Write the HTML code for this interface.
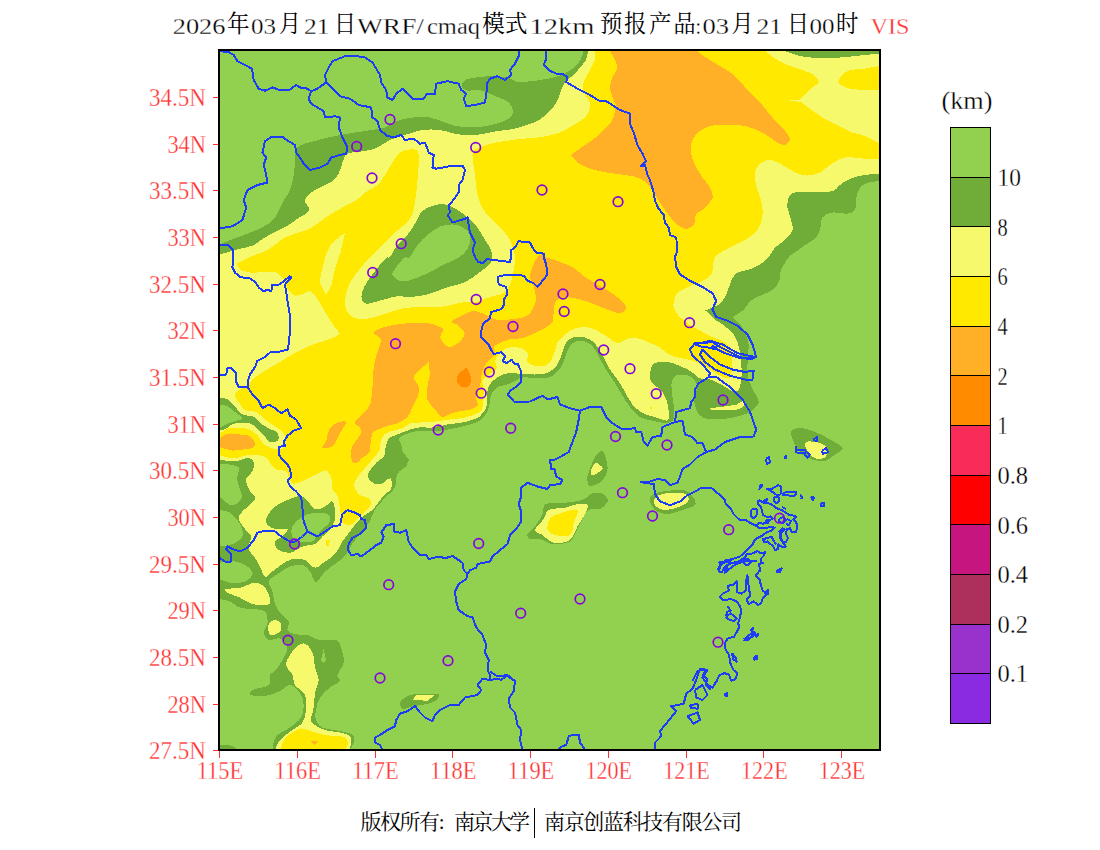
<!DOCTYPE html>
<html lang="zh"><head><meta charset="utf-8"><title>VIS</title>
<style>
html,body{margin:0;padding:0;background:#fff;}
body{width:1100px;height:850px;overflow:hidden;}
svg{display:block;}
.ax text,.lg text,text.tt{stroke:#fff;stroke-width:0.3px;paint-order:fill;}
.ax{font-family:"Liberation Serif","Noto Serif CJK SC",serif;font-size:25.5px;fill:#ff3030;}
.tt{font-family:"Liberation Serif","Noto Serif CJK SC",serif;font-size:24px;fill:#000;}
.tc{font-family:"Liberation Serif","Noto Serif CJK SC",serif;font-size:23.5px;fill:#000;}
.lg{font-family:"Liberation Serif",serif;font-size:25.5px;fill:#000;}
.ft{font-family:"Liberation Serif","Noto Serif CJK SC",serif;font-size:21px;fill:#000;}
</style></head><body>
<svg width="1100" height="850" viewBox="0 0 1100 850">
<rect width="1100" height="850" fill="#fff"/>
<defs><clipPath id="cp"><rect x="219" y="50" width="661" height="700"/></clipPath></defs>
<g clip-path="url(#cp)" shape-rendering="crispEdges">
<rect x="219" y="50" width="661" height="700" fill="#92D050"/>
<path fill="#70AD38" fill-rule="evenodd" d="M219.5 244.5C221.8 243.6 228.3 240.8 233.0 239.0C237.7 237.2 242.8 235.5 247.7 233.6C252.6 231.7 258.1 229.6 262.3 227.3C266.5 225.0 270.3 222.7 273.0 220.0C275.7 217.3 276.8 214.3 278.6 211.0C280.4 207.7 282.1 203.5 284.0 200.0C285.9 196.5 288.4 194.2 290.0 190.0C291.6 185.8 292.9 179.6 293.7 175.0C294.5 170.4 294.4 167.1 295.0 162.5C295.6 157.9 294.2 151.1 297.5 147.5C300.8 143.9 307.9 143.1 315.0 141.0C322.1 138.9 331.7 136.7 340.0 135.0C348.3 133.3 357.5 132.2 365.0 131.0C372.5 129.8 379.6 129.2 385.0 127.5C390.4 125.8 392.9 122.7 397.5 121.0C402.1 119.3 407.1 118.1 412.5 117.5C417.9 116.9 424.6 116.7 430.0 117.5C435.4 118.3 440.7 121.1 445.0 122.5C449.3 123.9 451.4 125.2 456.0 126.0C460.6 126.8 467.8 127.0 472.7 127.0C477.6 127.0 480.9 127.0 485.5 126.2C490.1 125.5 495.8 124.0 500.0 122.5C504.2 121.0 508.9 119.1 511.0 117.0C513.1 114.9 513.0 112.2 512.7 109.8C512.4 107.4 511.1 104.5 509.0 102.5C506.9 100.5 503.3 99.5 500.0 98.0C496.7 96.5 492.6 94.9 489.0 93.5C485.4 92.1 481.8 90.3 478.2 89.8C474.6 89.3 470.0 91.3 467.3 90.7C464.6 90.1 462.1 88.0 461.8 86.2C461.5 84.4 462.5 81.3 465.5 79.8C468.5 78.3 475.2 77.6 480.0 77.0C484.8 76.4 489.7 76.0 494.5 76.2C499.3 76.4 505.4 77.1 509.0 78.0C512.6 78.9 513.4 81.0 516.4 81.6C519.4 82.2 523.1 81.9 527.3 81.6C531.5 81.3 536.6 80.7 541.8 79.8C546.9 78.9 553.3 77.9 558.2 76.2C563.1 74.5 567.4 72.4 571.0 69.8C574.6 67.2 577.9 64.0 580.0 60.7C582.1 57.4 582.9 53.5 583.6 50.0C584.3 46.5 583.9 41.7 584.0 40.0L890.0 40.0L890.0 181.0C888.3 181.0 884.2 180.6 880.0 181.0C875.8 181.4 868.5 182.2 865.0 183.7C861.5 185.2 860.2 187.3 858.7 190.0C857.2 192.7 856.6 196.7 856.0 200.0C855.4 203.3 856.4 207.7 855.0 210.0C853.6 212.3 851.2 213.3 847.5 213.7C843.8 214.1 836.7 211.9 832.5 212.5C828.3 213.1 824.6 214.6 822.5 217.5C820.4 220.4 821.2 226.5 820.0 230.0C818.8 233.5 817.5 236.2 815.0 238.7C812.5 241.2 808.3 242.7 805.0 245.0C801.7 247.3 797.7 250.5 795.0 252.5C792.3 254.5 791.3 254.1 789.0 257.0C786.7 259.9 782.5 266.3 781.0 270.0C779.5 273.7 780.9 276.3 779.8 279.4C778.7 282.5 777.0 286.3 774.2 288.8C771.4 291.3 766.8 292.6 763.0 294.5C759.2 296.4 754.8 297.5 751.6 300.0C748.4 302.5 745.3 307.9 744.0 309.5L732.8 317.0L740.3 324.6C741.2 326.2 744.6 330.6 746.0 334.0C747.4 337.4 748.5 341.9 748.8 345.3C749.1 348.8 748.0 349.7 747.8 354.7C747.6 359.7 747.2 370.1 747.8 375.4C748.4 380.7 750.0 382.9 751.6 386.7C753.2 390.5 756.2 395.2 757.3 398.0C758.4 400.8 759.2 401.4 758.2 403.6C757.2 405.8 754.6 409.0 751.6 411.0C748.6 413.0 744.7 414.5 740.3 415.8C735.9 417.1 730.9 418.2 725.3 418.7C719.7 419.2 711.0 419.6 706.5 418.7C702.0 417.8 699.9 415.2 698.0 413.0C696.1 410.8 695.8 408.0 695.2 405.5C694.6 403.0 693.9 400.8 694.2 398.0C694.5 395.2 696.8 391.4 697.0 388.6C697.2 385.8 696.8 383.2 695.2 381.0C693.6 378.8 690.8 376.3 687.6 375.4C684.5 374.5 679.0 374.1 676.3 375.4C673.6 376.6 672.2 379.1 671.6 382.9C671.0 386.7 672.1 393.0 672.6 398.0C673.1 403.0 674.5 409.2 674.5 413.0C674.5 416.8 674.2 418.8 672.6 420.5C671.0 422.2 668.4 423.0 665.0 423.0C661.6 423.0 656.7 421.7 652.5 420.7C648.3 419.7 643.8 419.3 640.0 417.0C636.2 414.7 632.9 410.6 630.0 407.0C627.1 403.4 625.0 399.7 622.5 395.7C620.0 391.7 617.5 386.9 615.0 383.0C612.5 379.1 609.8 375.7 607.5 372.0C605.2 368.3 603.1 364.4 601.0 360.7C598.9 356.9 597.0 352.4 595.0 349.5C593.0 346.6 591.4 344.5 588.7 343.0C586.0 341.5 581.7 340.4 578.7 340.7C575.8 340.9 573.1 342.2 571.0 344.5C568.9 346.8 567.7 350.8 566.0 354.5C564.3 358.2 563.7 363.2 561.0 367.0C558.3 370.8 554.4 375.2 550.0 377.0C545.6 378.8 539.2 377.5 534.5 377.6C529.8 377.7 524.8 377.2 521.8 377.6C518.8 378.0 518.8 379.1 516.7 380.2C514.6 381.3 511.9 382.9 509.0 384.0C506.1 385.1 501.8 385.2 499.0 386.5C496.2 387.8 494.0 389.5 492.5 391.6C491.0 393.7 490.6 396.6 490.0 399.3C489.4 402.0 489.9 404.9 488.7 408.0C487.5 411.1 485.3 415.5 483.0 418.0C480.7 420.5 478.8 421.5 475.0 423.0C471.2 424.5 465.8 425.7 460.0 427.0C454.2 428.3 446.7 430.0 440.0 430.7C433.3 431.4 424.6 430.8 420.0 431.0C415.4 431.2 415.3 431.6 412.6 432.2C409.9 432.8 406.3 433.7 404.0 434.8C401.7 435.9 399.4 437.4 398.9 439.0C398.4 440.6 400.3 442.1 401.0 444.4C401.7 446.7 402.7 451.4 403.0 452.8L409.0 459.2L406.3 466.6C405.1 467.5 400.7 469.9 398.9 472.0C397.1 474.1 396.2 477.2 395.7 479.3C395.2 481.4 396.2 482.7 395.7 484.6C395.2 486.6 394.1 489.1 392.5 491.0C390.9 492.9 387.9 494.4 386.0 496.3C384.1 498.2 382.7 500.3 380.8 502.6C378.9 504.9 376.3 506.9 374.5 510.0C372.7 513.1 372.4 517.1 370.0 521.0C367.6 524.9 362.9 529.8 360.0 533.5C357.1 537.2 355.0 539.8 352.5 543.5C350.0 547.2 347.9 552.6 345.0 556.0C342.1 559.4 338.3 561.4 335.0 564.0C331.7 566.6 328.2 568.5 325.0 571.5C321.8 574.5 318.5 582.0 316.0 582.0C313.5 582.0 312.2 574.3 310.0 571.5C307.8 568.7 305.8 565.8 302.5 565.0C299.2 564.2 294.2 565.0 290.0 566.5C285.8 568.0 281.1 571.5 277.5 574.0C273.9 576.5 269.5 578.6 268.7 581.5C267.9 584.4 271.4 587.8 272.5 591.5C273.6 595.2 273.6 600.2 275.0 604.0C276.4 607.8 278.7 611.1 281.0 614.0C283.3 616.9 287.5 618.7 288.7 621.5C289.9 624.3 286.1 628.8 288.0 631.0C289.9 633.2 296.8 634.3 300.0 635.0C303.2 635.7 304.2 634.2 307.5 635.0C310.8 635.8 315.2 639.2 320.0 640.0C324.8 640.8 332.5 638.8 336.0 640.0C339.5 641.2 339.7 643.8 341.0 647.5C342.3 651.2 344.3 657.9 343.7 662.5C343.1 667.1 338.1 671.9 337.5 675.0C336.9 678.1 341.2 678.9 340.0 681.0C338.8 683.1 333.3 684.8 330.0 687.5C326.7 690.2 322.3 693.8 320.0 697.5C317.7 701.2 316.7 706.2 316.0 710.0C315.3 713.8 314.9 717.1 316.0 720.0C317.1 722.9 318.5 725.7 322.5 727.5C326.5 729.3 335.0 729.8 340.0 731.0C345.0 732.2 350.2 733.1 352.5 735.0C354.8 736.9 354.1 740.0 353.7 742.5C353.3 745.0 350.6 747.1 350.0 750.0C349.4 752.9 350.0 758.3 350.0 760.0L272.5 760.0L272.5 750.0C272.7 748.8 272.9 745.0 273.7 742.5C274.5 740.0 274.8 737.5 277.5 735.0C280.2 732.5 286.1 730.4 290.0 727.5C293.9 724.6 298.7 721.2 301.0 717.5C303.3 713.8 303.9 709.2 303.7 705.0C303.5 700.8 302.3 695.8 300.0 692.5C297.7 689.2 293.3 685.2 290.0 685.0C286.7 684.8 284.2 689.2 280.0 691.0C275.8 692.8 269.8 695.3 265.0 696.0C260.2 696.7 253.1 696.0 251.0 695.0C248.9 694.0 249.6 691.7 252.5 690.0C255.4 688.3 265.8 687.5 268.7 685.0C271.6 682.5 268.9 677.3 270.0 675.0C271.1 672.7 272.9 673.5 275.0 671.0C277.1 668.5 280.4 663.9 282.5 660.0C284.6 656.1 287.9 651.1 287.5 647.5C287.1 643.9 283.1 639.8 280.0 638.5C276.9 637.2 271.4 641.0 268.7 640.0C266.0 639.0 263.9 635.4 263.7 632.5C263.5 629.6 267.3 626.0 267.5 622.5C267.7 619.0 267.5 613.8 265.0 611.5C262.5 609.2 256.7 609.6 252.5 609.0C248.3 608.4 243.8 609.0 240.0 607.7C236.2 606.5 233.5 603.0 230.0 601.5C226.5 600.0 222.3 599.6 219.0 599.0C215.7 598.4 211.5 598.2 210.0 598.0L210.0 243.0Z M410.0 257.0C412.2 254.8 414.6 248.7 417.5 245.0C420.4 241.3 423.8 238.1 427.5 235.0C431.2 231.9 435.8 228.2 440.0 226.5C444.2 224.8 449.2 224.3 453.0 224.5C456.8 224.7 460.2 225.8 463.0 227.5C465.8 229.2 468.7 231.8 469.8 234.5C470.9 237.2 470.4 241.0 469.5 244.0C468.6 247.0 467.2 249.9 464.7 252.6C462.2 255.3 457.9 258.1 454.5 260.0C451.1 261.9 448.5 262.3 444.4 264.3C440.3 266.3 435.3 269.5 430.0 272.0C424.7 274.5 417.5 278.0 412.5 279.5C407.5 281.0 403.4 281.8 400.0 281.0C396.6 280.2 393.1 276.5 392.3 274.5C391.5 272.5 393.1 271.8 395.0 269.0C396.9 266.2 401.5 260.0 404.0 258.0C406.5 256.0 407.8 259.2 410.0 257.0Z M220.0 405.2C221.1 405.3 224.2 404.8 226.6 405.9C229.0 407.0 231.8 409.6 234.4 411.7C237.0 413.8 242.2 416.6 242.2 418.2C242.2 419.8 237.0 420.4 234.4 421.4C231.8 422.4 229.0 423.0 226.6 424.0C224.2 425.0 222.8 426.6 220.0 427.2C217.2 427.8 211.7 427.4 210.0 427.5L210.0 405.0Z M220.0 464.0C221.8 464.1 227.3 464.0 230.5 464.7C233.7 465.4 237.9 465.7 239.0 468.0C240.1 470.3 236.8 474.6 237.0 478.3C237.2 482.0 239.2 486.9 240.0 490.0C240.8 493.1 242.3 494.8 242.0 497.0C241.7 499.2 240.0 501.7 238.0 503.0C236.0 504.3 233.2 506.1 230.0 505.0C226.8 503.9 222.3 498.0 219.0 496.5C215.7 495.0 211.5 496.1 210.0 496.0L210.0 464.0Z M219.0 510.0C220.8 510.4 226.5 510.4 230.0 512.7C233.5 515.0 237.9 520.0 240.0 524.0C242.1 528.0 243.8 533.2 242.5 536.5C241.2 539.8 236.4 542.3 232.5 544.0C228.6 545.7 222.8 546.1 219.0 546.5C215.2 546.9 211.5 546.5 210.0 546.5L210.0 510.0Z M219.0 562.7C221.7 562.5 230.2 560.9 235.0 561.5C239.8 562.1 244.6 564.4 247.5 566.5C250.4 568.6 252.9 571.5 252.5 574.0C252.1 576.5 248.8 580.0 245.0 581.5C241.2 583.0 234.3 583.1 230.0 582.7C225.7 582.3 222.3 579.6 219.0 579.0C215.7 578.4 211.5 579.0 210.0 579.0L210.0 562.7Z M292.5 526.5C294.2 523.2 298.8 518.8 302.5 516.5C306.2 514.2 310.8 513.1 315.0 512.7C319.2 512.3 325.0 512.5 327.5 514.0C330.0 515.5 331.2 518.6 330.0 521.5C328.8 524.4 322.9 528.2 320.0 531.5C317.1 534.8 315.8 539.8 312.5 541.5C309.2 543.2 303.3 542.3 300.0 541.5C296.7 540.7 293.8 539.0 292.5 536.5C291.2 534.0 290.8 529.8 292.5 526.5Z M323.7 648.7L326.0 660.0L323.7 663.7L321.0 660.0Z M791.0 432.0C791.8 429.2 796.0 428.0 800.0 428.0C804.0 428.0 810.0 430.1 815.0 432.0C820.0 433.9 825.4 436.8 830.0 439.5C834.6 442.2 841.7 445.5 842.5 448.0C843.3 450.5 837.9 452.4 835.0 454.5C832.1 456.6 828.8 459.9 825.0 460.7C821.2 461.5 816.2 460.5 812.5 459.5C808.8 458.5 805.4 457.0 802.5 454.5C799.6 452.0 796.9 448.2 795.0 444.5C793.1 440.8 790.2 434.8 791.0 432.0Z M587.5 476.5C587.9 473.3 589.8 469.2 591.0 466.0C592.2 462.8 593.1 459.6 595.0 457.0C596.9 454.4 600.7 450.3 602.5 450.7C604.3 451.1 605.2 456.4 606.0 459.5C606.8 462.6 607.9 465.8 607.5 469.0C607.1 472.2 605.8 476.3 603.7 479.0C601.6 481.7 597.5 484.0 595.0 485.0C592.5 486.0 590.0 486.4 588.7 485.0C587.5 483.6 587.1 479.7 587.5 476.5Z M527.5 534.0C528.3 531.9 532.5 529.8 535.0 526.5C537.5 523.2 540.7 517.8 542.5 514.0C544.3 510.2 542.2 505.9 546.0 504.0C549.8 502.1 558.9 503.4 565.0 502.7C571.1 502.0 577.7 501.7 582.5 500.0C587.3 498.3 590.0 493.5 593.7 492.7C597.5 491.9 602.7 493.5 605.0 495.0C607.3 496.5 608.3 499.2 607.5 501.5C606.7 503.8 603.1 507.6 600.0 509.0C596.9 510.4 591.6 508.3 588.7 510.0C585.8 511.7 584.6 515.4 582.5 519.0C580.4 522.6 578.1 527.8 576.0 531.5C573.9 535.2 573.9 539.4 570.0 541.5C566.1 543.6 557.5 544.4 552.5 544.0C547.5 543.6 543.8 539.8 540.0 539.0C536.2 538.2 532.1 539.8 530.0 539.0C527.9 538.2 526.7 536.1 527.5 534.0Z M650.0 499.0C650.4 496.1 652.1 494.2 657.5 492.7C662.9 491.2 676.7 489.4 682.5 490.0C688.3 490.6 690.4 494.0 692.5 496.5C694.6 499.0 696.7 502.8 695.0 505.0C693.3 507.2 687.1 508.5 682.5 510.0C677.9 511.5 672.1 514.0 667.5 514.0C662.9 514.0 657.9 512.5 655.0 510.0C652.1 507.5 649.6 501.9 650.0 499.0Z M401.0 701.0C402.7 698.6 406.8 695.7 412.5 694.5C418.2 693.3 430.6 693.5 435.0 693.7C439.4 694.0 439.4 694.5 439.0 696.0C438.6 697.5 436.5 700.8 432.5 702.5C428.5 704.2 420.0 705.0 415.0 706.0C410.0 707.0 404.8 709.5 402.5 708.7C400.2 707.9 399.3 703.4 401.0 701.0Z M219.0 745.0C220.8 745.1 226.9 744.7 230.0 745.5C233.1 746.3 236.2 747.6 237.5 750.0C238.8 752.4 237.9 758.3 238.0 760.0L210.0 760.0L210.0 745.0Z"/>
<path fill="#F5F96B" fill-rule="evenodd" d="M219.5 254.5C220.6 254.2 222.8 253.6 226.0 252.7C229.2 251.8 234.1 250.2 238.6 249.0C243.1 247.8 249.1 247.2 253.0 245.5C256.9 243.8 258.6 241.3 262.3 239.0C266.0 236.7 270.8 234.1 275.0 231.8C279.2 229.6 283.8 227.8 287.7 225.5C291.6 223.2 295.6 220.0 298.6 218.0C301.7 216.0 304.2 215.1 306.0 213.6C307.8 212.1 309.7 211.1 309.5 209.0C309.3 206.9 304.8 203.8 305.0 201.0C305.2 198.2 308.1 195.0 311.0 192.5C313.9 190.0 318.9 187.9 322.5 186.0C326.1 184.1 329.8 183.1 332.5 181.0C335.2 178.9 337.0 176.8 338.7 173.7C340.4 170.6 341.0 165.8 342.5 162.5C344.0 159.2 343.8 155.6 347.5 153.7C351.2 151.8 360.0 152.0 365.0 151.0C370.0 150.0 373.3 149.3 377.5 147.5C381.7 145.7 385.4 142.1 390.0 140.0C394.6 137.9 399.6 136.7 405.0 135.0C410.4 133.3 416.7 130.8 422.5 130.0C428.3 129.2 434.6 129.4 440.0 130.0C445.4 130.6 449.6 132.8 455.0 133.7C460.4 134.6 466.1 135.7 472.7 135.3C479.3 135.0 487.8 132.7 494.5 131.6C501.2 130.5 507.5 130.1 512.7 129.0C517.9 128.0 521.2 126.7 525.5 125.3C529.8 123.9 534.3 123.0 538.2 120.7C542.1 118.4 546.0 114.6 549.0 111.6C552.0 108.6 554.6 105.5 556.4 102.5C558.2 99.5 558.8 96.5 560.0 93.5C561.2 90.5 561.8 87.2 563.6 84.4C565.4 81.7 568.6 79.4 571.0 77.0C573.4 74.6 575.8 72.5 578.2 69.8C580.6 67.1 583.8 64.0 585.5 60.7C587.2 57.4 587.7 53.5 588.2 50.0C588.7 46.5 588.5 41.7 588.5 40.0L782.5 40.0L782.5 50.0C785.4 51.0 793.8 54.7 800.0 56.0C806.2 57.3 813.3 57.8 820.0 58.0C826.7 58.2 832.5 58.0 840.0 57.5C847.5 57.0 858.3 55.6 865.0 55.0C871.7 54.4 875.8 54.0 880.0 53.7C884.2 53.4 888.3 53.1 890.0 53.0L890.0 173.7L880.0 173.7C877.5 173.9 870.0 174.2 865.0 175.0C860.0 175.8 854.2 177.0 850.0 178.7C845.8 180.4 842.9 182.9 840.0 185.0C837.1 187.1 836.7 189.8 832.5 191.0C828.3 192.2 821.2 191.8 815.0 192.0C808.8 192.2 799.4 191.6 795.0 192.5C790.6 193.4 790.0 195.0 788.7 197.5C787.5 200.0 787.1 203.8 787.5 207.5C787.9 211.2 790.2 216.2 791.0 220.0C791.8 223.8 793.5 226.7 792.5 230.0C791.5 233.3 787.9 237.1 785.0 240.0C782.1 242.9 777.7 244.7 775.0 247.5C772.3 250.3 771.2 254.2 768.7 257.0C766.2 259.8 763.5 262.3 760.0 264.5C756.5 266.7 751.6 268.8 748.0 270.0C744.4 271.2 741.0 270.8 738.5 272.0C736.0 273.2 734.4 275.0 732.8 277.5C731.2 280.0 730.2 283.9 729.0 287.0C727.8 290.1 726.9 293.5 725.3 296.3C723.7 299.1 721.8 302.0 719.6 303.9C717.4 305.8 713.3 307.0 712.0 307.6L705.5 310.5L714.0 319.0C715.9 320.2 721.8 323.7 725.3 326.5C728.8 329.3 732.4 332.1 734.7 335.9C737.1 339.6 738.3 344.3 739.4 349.0C740.5 353.7 741.0 359.0 741.3 364.0C741.6 369.0 741.8 374.6 741.3 379.0C740.8 383.4 740.1 388.5 738.4 390.4C736.7 392.3 733.8 391.3 731.0 390.4C728.2 389.5 724.7 386.5 721.5 384.8C718.3 383.1 714.6 381.0 712.0 380.0C709.4 379.0 708.2 379.3 706.0 379.0C703.8 378.7 701.4 379.2 699.0 378.0C696.6 376.8 694.6 373.6 691.4 371.6C688.2 369.6 683.8 367.6 680.0 366.0C676.2 364.4 672.5 362.8 668.8 362.2C665.0 361.6 660.3 361.6 657.5 362.2C654.7 362.8 653.2 363.9 652.0 366.0C650.8 368.1 650.0 372.2 650.0 375.0C650.0 377.8 650.1 380.4 652.0 383.0C653.9 385.6 658.8 387.3 661.3 390.4C663.8 393.5 665.8 397.9 667.0 401.7C668.2 405.5 668.8 409.9 668.8 413.0C668.8 416.1 669.3 419.8 667.0 420.5C664.7 421.2 659.1 418.2 655.0 417.0C650.9 415.8 646.2 415.1 642.5 413.0C638.8 410.9 635.4 408.0 632.5 404.5C629.6 401.0 627.5 396.2 625.0 392.0C622.5 387.8 620.0 383.2 617.5 379.5C615.0 375.8 612.1 372.8 610.0 369.5C607.9 366.2 607.1 363.2 605.0 359.5C602.9 355.8 600.0 350.3 597.5 347.0C595.0 343.7 593.3 341.2 590.0 339.5C586.7 337.8 581.2 336.3 577.5 336.5C573.8 336.7 570.0 338.1 567.5 340.7C565.0 343.3 564.2 348.0 562.5 352.0C560.8 356.0 560.0 361.0 557.5 364.5C555.0 368.0 551.3 371.3 547.5 373.0C543.7 374.7 538.8 374.4 534.5 374.5C530.2 374.6 526.0 374.0 521.8 373.8C517.5 373.6 512.4 373.0 509.0 373.2C505.6 373.4 504.0 373.8 501.5 375.0C499.0 376.2 495.9 378.3 493.8 380.2C491.7 382.1 489.9 383.8 488.7 386.5C487.5 389.2 487.2 393.1 486.8 396.7C486.4 400.3 487.2 404.9 486.2 408.0C485.2 411.1 482.4 413.3 481.0 415.0C479.6 416.7 480.2 416.8 477.5 418.0C474.8 419.2 470.0 420.9 465.0 422.0C460.0 423.1 453.0 423.6 447.5 424.5C442.0 425.4 436.6 427.0 432.0 427.5C427.4 428.0 423.6 427.1 420.0 427.4C416.4 427.7 413.5 428.6 410.5 429.5C407.5 430.4 404.8 431.6 402.0 432.7C399.2 433.8 395.7 435.0 393.6 435.9C391.5 436.8 390.6 436.4 389.3 438.0C388.0 439.6 386.9 442.4 386.0 445.4C385.1 448.4 385.6 453.2 384.0 456.0C382.4 458.8 378.7 460.3 376.6 462.4C374.5 464.5 372.7 466.8 371.3 468.7C369.9 470.6 368.4 472.2 368.0 474.0C367.6 475.8 368.1 477.7 369.2 479.3C370.3 480.9 372.4 482.9 374.5 483.6C376.6 484.3 379.9 484.3 382.0 483.6C384.1 482.9 386.3 480.0 387.2 479.3L391.0 478.3L392.0 484.6C391.7 485.5 391.6 488.4 390.4 490.0C389.2 491.6 386.6 492.6 385.0 494.2C383.4 495.8 382.2 497.6 380.8 499.4C379.4 501.1 378.0 502.9 376.6 504.7C375.2 506.5 375.2 507.6 372.4 510.0C369.6 512.4 363.7 515.4 360.0 519.0C356.3 522.6 352.9 527.8 350.0 531.5C347.1 535.2 345.0 537.8 342.5 541.5C340.0 545.2 337.9 550.7 335.0 554.0C332.1 557.3 328.3 559.2 325.0 561.5C321.7 563.8 318.3 568.0 315.0 567.7C311.7 567.5 308.8 561.5 305.0 560.0C301.2 558.5 296.2 558.3 292.5 559.0C288.8 559.7 285.8 561.9 282.5 564.0C279.2 566.1 275.4 569.4 272.5 571.5C269.6 573.6 267.5 578.2 265.0 576.5C262.5 574.8 260.2 566.1 257.5 561.5C254.8 556.9 249.8 553.2 248.7 549.0C247.6 544.8 251.6 539.8 251.0 536.5C250.4 533.2 247.1 531.9 245.0 529.0C242.9 526.1 239.1 521.9 238.7 519.0C238.3 516.1 239.8 514.8 242.5 511.5C245.2 508.2 253.8 502.3 255.0 499.0C256.2 495.7 251.5 494.7 250.0 491.5C248.5 488.3 245.8 482.7 246.0 479.6C246.2 476.5 249.8 475.4 251.2 473.0C252.6 470.6 254.3 467.5 254.5 465.4C254.7 463.3 253.7 461.5 252.5 460.2C251.3 458.9 249.2 457.6 247.3 457.6C245.4 457.6 243.5 459.6 240.9 460.2C238.3 460.8 235.3 460.9 231.8 460.9C228.3 460.9 223.6 460.3 220.0 460.2C216.4 460.1 211.7 460.0 210.0 460.0L210.0 430.0L220.0 429.8C220.9 429.7 223.3 430.1 225.3 429.2C227.3 428.3 229.2 425.7 231.8 424.6C234.4 423.5 237.9 422.9 240.9 422.7C243.9 422.5 247.4 422.4 250.0 423.3C252.6 424.2 254.0 425.8 256.4 427.9C258.8 429.9 262.0 433.3 264.2 435.6C266.4 437.9 267.1 440.6 269.3 441.5C271.6 442.4 276.3 442.2 277.7 440.8C279.1 439.4 278.9 434.9 277.7 433.0C276.5 431.1 273.5 430.8 270.6 429.2C267.7 427.6 263.1 425.4 260.3 423.3C257.5 421.2 256.8 418.4 253.8 416.9C250.8 415.4 245.4 416.1 242.2 414.3C239.0 412.5 236.8 408.4 234.4 405.9C232.0 403.4 230.4 400.7 228.0 399.4C225.6 398.1 223.0 398.3 220.0 398.0C217.0 397.7 211.7 397.6 210.0 397.5L210.0 255.0Z M390.0 257.0C391.8 254.9 393.9 249.2 396.8 245.5C399.8 241.8 404.7 238.2 407.7 234.5C410.7 230.8 412.5 227.5 415.0 223.6C417.5 219.7 419.2 214.1 422.5 211.0C425.8 207.9 430.8 206.0 435.0 205.0C439.2 204.0 443.8 204.2 447.5 205.0C451.2 205.8 454.2 207.9 457.5 210.0C460.8 212.1 464.2 214.6 467.5 217.5C470.8 220.4 474.6 223.8 477.5 227.5C480.4 231.2 482.8 236.2 485.0 240.0C487.2 243.8 490.0 246.3 491.0 250.0C492.0 253.7 492.8 258.3 491.0 262.0C489.2 265.7 484.3 268.7 480.0 272.0C475.7 275.3 470.8 279.3 465.0 282.0C459.2 284.7 451.2 285.9 445.0 288.0C438.8 290.1 433.3 293.0 427.5 294.5C421.7 296.0 415.1 296.7 410.0 297.0C404.9 297.3 402.0 295.7 396.8 296.4C391.6 297.1 383.7 299.8 378.6 301.0C373.5 302.2 368.9 304.4 366.0 303.6C363.1 302.8 361.4 299.7 361.4 296.4C361.4 293.1 363.7 287.8 366.0 283.6C368.3 279.4 371.7 275.3 375.0 271.0C378.3 266.7 383.5 260.3 386.0 258.0C388.5 255.7 388.2 259.1 390.0 257.0Z M268.7 514.0C270.2 511.3 271.4 509.0 275.0 506.5C278.6 504.0 285.4 500.7 290.0 499.0C294.6 497.3 298.3 494.8 302.5 496.5C306.7 498.2 311.2 507.3 315.0 509.0C318.8 510.7 322.1 507.8 325.0 506.5C327.9 505.2 330.8 500.2 332.5 501.5C334.2 502.8 335.0 509.8 335.0 514.0C335.0 518.2 334.6 522.8 332.5 526.5C330.4 530.2 325.4 533.6 322.5 536.5C319.6 539.4 318.3 542.3 315.0 544.0C311.7 545.7 306.7 545.0 302.5 546.5C298.3 548.0 294.2 552.3 290.0 552.7C285.8 553.1 280.0 550.9 277.5 549.0C275.0 547.1 274.2 543.6 275.0 541.5C275.8 539.4 280.4 538.6 282.5 536.5C284.6 534.4 288.8 530.2 287.5 529.0C286.2 527.8 278.6 530.0 275.0 529.0C271.4 528.0 267.1 525.2 266.0 522.7C264.9 520.2 267.2 516.7 268.7 514.0Z M743.2 400.8L745.0 404.5C743.9 405.3 741.7 408.4 738.4 409.3C735.1 410.2 729.7 410.1 725.3 410.2C720.9 410.2 714.5 409.9 712.0 409.6C709.5 409.3 708.0 408.8 710.2 408.3C712.4 407.8 720.9 407.0 725.3 406.4C729.7 405.8 734.7 404.8 736.6 404.5Z M805.0 444.5C805.2 443.2 805.8 441.8 808.0 441.5C810.2 441.2 815.0 441.7 818.0 442.5C821.0 443.3 824.4 444.8 826.0 446.5C827.6 448.2 827.8 451.1 827.5 453.0C827.2 454.9 825.9 457.1 824.0 458.0C822.1 458.9 818.3 459.0 816.0 458.5C813.7 458.0 811.6 456.6 810.0 455.0C808.4 453.4 807.3 450.8 806.5 449.0C805.7 447.2 804.8 445.8 805.0 444.5Z M226.0 589.0C228.1 588.2 235.2 588.8 240.0 587.7C244.8 586.7 250.8 582.7 255.0 582.7C259.2 582.7 262.5 585.0 265.0 587.7C267.5 590.4 269.6 596.1 270.0 599.0C270.4 601.9 270.4 604.2 267.5 605.0C264.6 605.8 257.1 605.2 252.5 604.0C247.9 602.8 244.2 599.6 240.0 597.7C235.8 595.8 229.8 594.2 227.5 592.7C225.2 591.2 223.9 589.8 226.0 589.0Z M268.7 624.0C269.5 621.5 272.9 620.0 275.0 620.0C277.1 620.0 280.2 622.1 281.0 624.0C281.8 625.9 281.8 629.7 280.0 631.5C278.2 633.3 271.9 636.2 270.0 635.0C268.1 633.8 267.9 626.5 268.7 624.0Z M275.0 760.0L275.0 750.0C275.8 748.3 277.1 743.3 280.0 740.0C282.9 736.7 288.8 732.9 292.5 730.0C296.2 727.1 300.2 725.8 302.5 722.5C304.8 719.2 305.6 714.6 306.0 710.0C306.4 705.4 306.8 699.2 305.0 695.0C303.2 690.8 297.1 688.3 295.0 685.0C292.9 681.7 294.0 678.3 292.5 675.0C291.0 671.7 286.4 668.3 286.0 665.0C285.6 661.7 288.1 658.2 290.0 655.0C291.9 651.8 295.0 647.9 297.5 646.0C300.0 644.1 302.5 642.6 305.0 643.7C307.5 644.8 310.8 648.5 312.5 652.5C314.2 656.5 314.0 662.9 315.0 667.5C316.0 672.1 318.7 675.8 318.7 680.0C318.7 684.2 315.8 687.9 315.0 692.5C314.2 697.1 314.4 702.9 313.7 707.5C313.0 712.1 310.8 717.1 311.0 720.0C311.2 722.9 312.7 723.3 315.0 725.0C317.3 726.7 320.0 728.5 325.0 730.0C330.0 731.5 340.7 732.2 345.0 733.7C349.3 735.2 350.2 736.0 351.0 738.7C351.8 741.4 350.2 746.5 350.0 750.0C349.8 753.5 350.0 758.3 350.0 760.0Z M591.5 469.0C592.3 467.0 594.4 463.5 596.0 463.0C597.6 462.5 599.9 465.0 601.0 466.0C602.1 467.0 603.3 467.7 602.5 469.0C601.7 470.3 597.9 473.0 596.0 474.0C594.1 475.0 591.8 475.8 591.0 475.0C590.2 474.2 590.7 471.0 591.5 469.0Z M535.0 530.0C535.2 527.3 541.4 522.3 543.7 519.0C546.0 515.7 545.2 511.9 548.7 510.0C552.2 508.1 560.2 508.7 565.0 507.7C569.8 506.7 573.8 504.4 577.5 504.0C581.2 503.6 586.2 503.3 587.5 505.0C588.8 506.7 586.7 510.4 585.0 514.0C583.3 517.6 580.0 522.2 577.5 526.5C575.0 530.8 574.0 537.3 570.0 540.0C566.0 542.7 558.3 543.5 553.7 542.7C549.1 541.9 545.6 537.1 542.5 535.0C539.4 532.9 534.8 532.7 535.0 530.0Z M654.5 499.0C655.6 496.9 657.8 495.0 662.5 494.0C667.2 493.0 678.1 492.0 682.5 493.0C686.9 494.0 689.1 497.8 688.7 500.0C688.3 502.2 684.0 504.8 680.0 506.5C676.0 508.2 669.0 510.0 665.0 510.0C661.0 510.0 657.8 508.3 656.0 506.5C654.2 504.7 653.4 501.1 654.5 499.0Z M416.0 695.5L435.0 695.0L427.5 700.7L412.5 700.0Z"/>
<path fill="#FFE900" fill-rule="evenodd" d="M595.5 50.0C595.3 51.8 595.6 57.1 594.5 60.7C593.4 64.3 590.8 68.0 589.0 71.6C587.2 75.2 584.5 79.2 583.6 82.5C582.7 85.8 582.7 88.6 583.6 91.6C584.5 94.6 587.9 98.0 589.0 100.7C590.1 103.4 590.6 105.3 590.0 108.0C589.4 110.7 588.1 114.3 585.5 117.0C582.9 119.7 578.8 121.8 574.5 124.4C570.2 127.0 565.5 130.4 560.0 132.5C554.5 134.6 548.5 135.9 541.8 137.0C535.1 138.1 526.7 138.2 520.0 139.0C513.3 139.8 506.8 140.8 501.8 141.6C496.8 142.4 494.3 142.8 490.0 144.0C485.7 145.2 478.9 147.2 476.0 149.0C473.1 150.8 472.7 150.7 472.5 155.0C472.3 159.3 474.2 168.3 475.0 175.0C475.8 181.7 476.1 189.2 477.5 195.0C478.9 200.8 481.6 206.2 483.7 210.0C485.8 213.8 487.3 214.6 490.0 217.5C492.7 220.4 496.7 223.8 500.0 227.5C503.3 231.2 507.5 235.1 510.0 240.0C512.5 244.9 514.4 252.1 515.0 257.0C515.6 261.9 514.4 265.3 513.7 269.5C513.0 273.7 512.5 278.2 511.0 282.0C509.6 285.8 507.7 289.7 505.0 292.0C502.3 294.3 497.5 294.9 495.0 295.7C492.5 296.5 493.2 295.9 490.0 297.0C486.8 298.1 480.2 301.2 476.0 302.0C471.8 302.8 471.0 301.2 465.0 302.0C459.0 302.8 448.3 306.1 440.0 307.0C431.7 307.9 421.6 307.0 415.0 307.3C408.4 307.6 405.3 307.9 400.5 309.0C395.7 310.1 390.9 312.1 386.0 313.6C381.1 315.1 376.0 317.1 371.4 318.0C366.8 318.9 362.2 319.6 358.6 319.0C355.0 318.4 351.8 316.8 349.5 314.5C347.2 312.2 345.6 308.8 345.0 305.5C344.4 302.2 345.2 298.1 346.0 294.5C346.8 290.9 347.7 287.2 349.5 283.6C351.3 280.0 354.1 276.3 356.8 272.7C359.6 269.1 363.0 265.1 366.0 261.8C369.0 258.5 371.7 256.0 375.0 252.7C378.3 249.4 382.4 245.4 386.0 241.8C389.6 238.2 393.2 234.3 396.8 231.0C400.4 227.7 405.0 225.0 407.7 221.8C410.4 218.6 411.6 216.5 413.0 212.0C414.4 207.5 415.2 200.3 416.0 195.0C416.8 189.7 417.1 185.4 417.5 180.0C417.9 174.6 418.7 167.3 418.7 162.5C418.7 157.7 418.9 153.2 417.5 151.0C416.1 148.8 412.9 149.2 410.0 149.5C407.1 149.8 402.9 150.3 400.0 152.5C397.1 154.7 395.0 158.8 392.5 162.5C390.0 166.2 387.5 171.2 385.0 175.0C382.5 178.8 380.8 182.1 377.5 185.0C374.2 187.9 368.4 190.0 365.0 192.5C361.6 195.0 359.4 198.2 356.8 200.0C354.2 201.8 353.4 201.5 349.5 203.6C345.6 205.7 337.7 210.0 333.2 212.7C328.7 215.4 326.2 217.3 322.3 220.0C318.4 222.7 314.1 226.7 309.5 229.0C304.9 231.3 299.5 231.9 295.0 233.6C290.5 235.3 286.6 236.4 282.3 239.0C278.1 241.6 274.6 246.1 269.5 249.0C264.4 251.9 254.4 255.2 251.4 256.4L236.8 263.6L240.5 270.0C242.3 270.4 247.2 272.4 251.4 272.7C255.7 273.0 261.8 271.8 266.0 271.8C270.2 271.8 273.8 271.3 276.8 272.7C279.8 274.1 282.2 277.3 284.0 280.0C285.8 282.7 285.9 286.4 287.7 289.0C289.5 291.6 292.3 294.7 295.0 295.5C297.7 296.3 301.6 294.4 304.0 293.6C306.4 292.9 307.4 290.3 309.5 291.0C311.6 291.7 314.7 295.3 316.8 298.0C318.9 300.7 320.5 304.2 322.3 307.3C324.1 310.4 325.6 313.1 327.7 316.4C329.8 319.7 333.2 324.3 335.0 327.3C336.8 330.3 340.4 332.3 338.7 334.5C337.0 336.7 329.8 338.8 325.0 340.7C320.2 342.6 315.0 343.6 310.0 345.7C305.0 347.8 300.0 350.3 295.0 353.0C290.0 355.7 285.0 359.1 280.0 362.0C275.0 364.9 269.6 367.8 265.0 370.7C260.4 373.6 255.8 376.8 252.5 379.5C249.2 382.2 247.8 384.9 245.0 387.0C242.2 389.1 237.6 390.2 236.0 392.0C234.4 393.8 235.1 396.1 235.7 398.0C236.3 399.9 238.1 401.3 239.6 403.3C241.1 405.3 242.0 408.3 244.8 409.8C247.6 411.3 253.2 410.8 256.4 412.3C259.6 413.8 261.4 416.6 264.2 418.8C267.0 421.0 270.4 423.4 273.2 425.3C276.0 427.2 278.9 428.6 281.0 430.5C283.1 432.4 284.8 434.2 285.5 437.0C286.2 439.8 286.9 445.0 285.5 447.0C284.1 449.0 279.7 449.1 277.0 449.2C274.3 449.2 271.7 448.3 269.3 447.3C266.9 446.3 264.8 445.3 262.9 443.4C261.0 441.4 259.8 437.9 257.7 435.6C255.5 433.3 252.8 431.1 250.0 429.8C247.2 428.5 244.6 428.1 240.9 427.9C237.2 427.7 231.5 427.6 228.0 428.5C224.5 429.4 223.0 432.2 220.0 433.0C217.0 433.8 211.7 433.0 210.0 433.0L210.0 455.0L220.0 455.0C221.3 455.4 224.9 457.2 228.0 457.6C231.1 458.0 235.1 458.0 238.3 457.6C241.5 457.2 244.1 455.4 247.3 455.0C250.5 454.6 254.5 454.6 257.7 455.0C260.9 455.4 264.5 456.1 266.7 457.6C268.9 459.1 269.1 462.1 270.6 464.0C272.1 465.9 273.6 468.2 275.8 469.3C278.0 470.4 281.7 470.0 283.6 470.6C285.5 471.2 285.9 470.9 287.4 473.0C288.9 475.1 289.6 482.4 292.6 483.5C295.6 484.6 301.3 481.4 305.6 479.6C309.9 477.9 315.1 474.5 318.5 473.0C321.9 471.5 324.2 469.7 326.3 470.6C328.4 471.5 330.3 475.1 331.4 478.3C332.5 481.5 331.7 486.8 332.7 489.7C333.7 492.6 336.3 492.8 337.5 496.0C338.7 499.2 339.2 504.8 340.0 509.0C340.8 513.2 340.8 518.8 342.5 521.5C344.2 524.2 347.1 525.8 350.0 525.0C352.9 524.2 356.9 519.3 360.0 516.5C363.1 513.7 366.9 510.1 368.7 508.0C370.5 505.9 370.7 505.3 370.8 503.7C370.9 502.1 370.5 499.6 369.2 498.4C367.9 497.2 364.8 497.2 362.8 496.3C360.9 495.4 358.9 494.6 357.5 493.0C356.1 491.4 354.8 488.8 354.4 486.7C354.0 484.6 354.3 482.7 355.4 480.4C356.4 478.1 358.8 475.5 360.7 473.0C362.6 470.5 364.7 468.3 367.0 465.6C369.3 462.9 372.4 459.6 374.5 457.0C376.6 454.4 378.8 452.3 379.8 449.7C380.9 447.1 379.9 443.8 380.8 441.2C381.7 438.6 382.9 435.6 385.0 433.8C387.1 432.0 390.8 431.5 393.6 430.6C396.4 429.7 399.2 429.7 402.0 428.5C404.8 427.3 407.5 424.2 410.5 423.2C413.5 422.2 415.9 422.8 420.0 422.5C424.1 422.2 430.0 422.0 435.0 421.5C440.0 421.0 445.0 420.2 450.0 419.5C455.0 418.8 460.4 418.6 465.0 417.5C469.6 416.4 474.6 414.6 477.5 413.0C480.4 411.4 481.4 412.0 482.4 408.0C483.4 404.0 483.6 393.4 483.6 389.0C483.6 384.6 482.0 383.6 482.4 381.5C482.8 379.4 483.9 378.5 486.2 376.4C488.5 374.3 494.9 371.3 496.4 368.7C497.9 366.1 494.6 363.5 495.0 361.0C495.4 358.5 497.1 355.6 499.0 353.5C500.9 351.4 503.8 349.5 506.5 348.4C509.2 347.3 512.5 346.8 515.5 347.0C518.5 347.2 522.3 348.3 524.4 349.6C526.5 350.9 527.8 352.8 528.2 354.7C528.6 356.6 526.4 359.3 527.0 361.0C527.6 362.7 529.5 364.1 532.0 365.0C534.5 365.9 539.2 366.6 542.2 366.2C545.2 365.8 547.7 364.9 549.8 362.4C551.9 359.9 553.7 354.4 555.0 351.0C556.3 347.6 556.2 344.3 557.5 342.0C558.8 339.7 560.4 338.9 562.5 337.0C564.6 335.1 566.7 332.4 570.0 330.7C573.3 329.0 578.3 327.2 582.5 327.0C586.7 326.8 590.8 327.8 595.0 329.5C599.2 331.2 603.8 334.8 607.5 337.0C611.2 339.2 613.8 342.8 617.5 343.0C621.2 343.2 625.8 338.6 630.0 338.0C634.2 337.4 639.2 338.7 642.5 339.5C645.8 340.3 647.2 341.8 650.0 343.0C652.8 344.2 656.3 345.1 659.4 347.0C662.5 348.9 665.4 352.5 668.8 354.3C672.2 356.1 676.2 357.0 680.0 358.0C683.8 359.0 687.6 359.1 691.4 360.3C695.2 361.5 699.3 363.3 702.7 365.0C706.1 366.7 708.7 368.7 712.0 370.7C715.3 372.7 719.7 375.9 722.5 377.0C725.3 378.1 727.4 378.5 729.0 377.3C730.6 376.1 731.5 373.1 732.0 369.7C732.5 366.2 732.3 360.4 732.0 356.6C731.7 352.8 731.8 349.7 730.0 347.0C728.2 344.3 724.8 342.4 721.5 340.6C718.2 338.8 713.8 337.8 710.0 336.0C706.2 334.2 702.4 331.9 699.0 330.0C695.6 328.1 693.0 327.1 689.5 324.6C686.0 322.1 680.9 318.3 678.2 315.2C675.5 312.1 673.8 309.2 673.5 305.8C673.2 302.4 674.2 297.5 676.3 294.5C678.3 291.5 682.3 289.8 685.8 287.9C689.2 286.0 693.2 284.9 697.0 283.2C700.8 281.5 705.6 279.7 708.3 277.5C711.0 275.3 711.9 273.4 713.0 270.0C714.1 266.6 712.2 260.8 715.0 257.0C717.8 253.2 725.0 250.3 730.0 247.5C735.0 244.7 740.4 242.9 745.0 240.0C749.6 237.1 754.6 234.2 757.5 230.0C760.4 225.8 761.9 220.0 762.5 215.0C763.1 210.0 762.1 205.0 761.0 200.0C759.9 195.0 757.0 189.6 756.0 185.0C755.0 180.4 754.3 176.1 755.0 172.5C755.7 168.9 757.5 165.8 760.0 163.7C762.5 161.6 766.2 159.8 770.0 160.0C773.8 160.2 778.3 162.9 782.5 165.0C786.7 167.1 790.8 170.8 795.0 172.5C799.2 174.2 803.3 175.5 807.5 175.5C811.7 175.5 816.2 174.2 820.0 172.5C823.8 170.8 825.8 167.5 830.0 165.0C834.2 162.5 839.2 158.6 845.0 157.5C850.8 156.4 859.2 158.5 865.0 158.7C870.8 158.9 875.8 158.7 880.0 158.7C884.2 158.7 888.3 158.7 890.0 158.7L890.0 143.7L880.0 143.7C877.5 142.4 869.6 137.9 865.0 136.0C860.4 134.1 857.1 134.3 852.5 132.5C847.9 130.7 842.5 127.5 837.5 125.0C832.5 122.5 827.1 120.2 822.5 117.5C817.9 114.8 813.6 111.3 810.0 108.7C806.4 106.1 802.5 103.1 801.0 102.0L790.0 100.5L800.0 99.5C800.8 98.8 802.9 97.0 805.0 95.0C807.1 93.0 810.2 89.6 812.5 87.5C814.8 85.4 818.3 84.4 818.7 82.5C819.1 80.6 817.7 78.1 815.0 76.0C812.3 73.9 806.7 71.7 802.5 70.0C798.3 68.3 794.2 67.7 790.0 66.0C785.8 64.3 781.7 62.7 777.5 60.0C773.3 57.3 767.1 53.3 765.0 50.0C762.9 46.7 765.0 41.7 765.0 40.0L595.5 40.0Z M340.5 252.7C339.6 255.4 336.5 263.5 335.0 269.0C333.5 274.5 332.0 282.8 331.4 285.5L326.0 295.0L319.5 281.8C320.0 279.7 321.2 273.6 322.3 269.0C323.4 264.4 324.5 258.7 326.0 254.5C327.5 250.3 330.5 245.4 331.4 243.6L345.0 232.7Z M890.0 90.0L880.0 90.0C877.5 90.0 870.0 90.2 865.0 90.0C860.0 89.8 854.0 89.5 850.0 88.7C846.0 87.9 842.9 86.5 841.0 85.0C839.1 83.5 837.6 82.3 838.7 80.0C839.8 77.7 843.1 72.9 847.5 71.0C851.9 69.1 859.6 69.5 865.0 68.7C870.4 67.9 875.8 66.5 880.0 66.0C884.2 65.5 888.3 66.0 890.0 66.0Z M547.5 529.0C546.8 526.1 548.5 520.4 551.0 517.7C553.5 515.0 558.1 514.0 562.5 512.7C566.9 511.4 575.6 508.3 577.5 510.0C579.4 511.7 575.0 518.5 573.7 522.7C572.5 526.9 573.1 533.0 570.0 535.0C566.9 537.0 558.8 536.0 555.0 535.0C551.2 534.0 548.2 531.9 547.5 529.0Z M280.0 750.0C281.0 747.9 282.7 741.0 286.0 737.5C289.3 734.0 296.0 729.8 300.0 728.7C304.0 727.6 305.8 730.0 310.0 731.0C314.2 732.0 319.2 733.9 325.0 735.0C330.8 736.1 341.2 735.8 345.0 737.5C348.8 739.2 347.5 742.9 347.5 745.0C347.5 747.1 345.4 747.5 345.0 750.0C344.6 752.5 345.0 758.3 345.0 760.0L280.0 760.0Z M330.0 539.5L328.7 546.5L326.0 545.5L325.5 540.0Z M651.0 406.2L652.5 407.7L651.0 409.2L649.5 407.7Z"/>
<path fill="#FFB027" fill-rule="evenodd" d="M609.0 50.0C609.9 51.5 613.1 56.0 614.5 59.0C615.9 62.0 617.6 65.0 617.3 68.0C617.0 71.0 613.9 74.0 612.7 77.0C611.5 80.0 610.1 83.2 610.0 86.2C609.9 89.2 610.9 92.3 611.8 95.3C612.7 98.3 615.0 101.4 615.5 104.4C616.0 107.4 615.2 110.5 614.5 113.5C613.8 116.5 612.8 119.8 611.0 122.5C609.2 125.2 606.0 127.4 603.6 129.8C601.2 132.2 599.5 134.5 596.4 137.0C593.3 139.5 586.9 143.7 585.0 145.0L571.0 155.0L577.5 162.5C579.6 163.5 585.0 167.0 590.0 168.7C595.0 170.4 601.7 171.4 607.5 172.5C613.3 173.6 620.0 174.2 625.0 175.0C630.0 175.8 633.8 176.1 637.5 177.5C641.2 178.9 644.6 180.8 647.5 183.7C650.4 186.6 652.1 190.6 655.0 195.0C657.9 199.4 661.7 205.4 665.0 210.0C668.3 214.6 671.7 219.4 675.0 222.5C678.3 225.6 681.9 228.3 685.0 228.7C688.1 229.1 691.9 227.3 693.7 225.0C695.5 222.7 694.1 217.9 696.0 215.0C697.9 212.1 702.2 210.4 705.0 207.5C707.8 204.6 711.7 200.8 712.5 197.5C713.3 194.2 711.7 190.8 710.0 187.5C708.3 184.2 705.0 181.2 702.5 177.5C700.0 173.8 696.9 169.2 695.0 165.0C693.1 160.8 691.4 156.7 691.0 152.5C690.6 148.3 691.0 143.6 692.5 140.0C694.0 136.4 697.1 133.3 700.0 131.0C702.9 128.7 705.4 127.1 710.0 126.0C714.6 124.9 721.7 124.5 727.5 124.5C733.3 124.5 739.2 124.7 745.0 126.0C750.8 127.3 757.5 130.0 762.5 132.5C767.5 135.0 771.5 138.9 775.0 141.0C778.5 143.1 781.2 145.2 783.7 145.0C786.2 144.8 789.8 142.3 790.0 140.0C790.2 137.7 787.9 134.8 785.0 131.0C782.1 127.2 776.7 122.2 772.5 117.5C768.3 112.8 764.2 107.1 760.0 102.5C755.8 97.9 751.7 94.4 747.5 90.0C743.3 85.6 739.2 79.8 735.0 76.0C730.8 72.2 726.7 70.2 722.5 67.5C718.3 64.8 714.4 62.9 710.0 60.0C705.6 57.1 698.3 53.3 696.0 50.0C693.7 46.7 696.0 41.7 696.0 40.0L609.0 40.0Z M428.7 362.0L420.0 369.5C418.9 370.8 413.9 374.1 413.7 377.0C413.5 379.9 418.1 383.7 418.7 387.0C419.3 390.3 418.5 393.7 417.5 397.0C416.5 400.3 414.2 403.7 412.5 407.0C410.8 410.3 409.9 414.3 407.5 417.0C405.1 419.7 400.8 421.8 397.8 423.2C394.8 424.6 392.1 424.4 389.3 425.3C386.5 426.2 383.5 427.4 380.8 428.5C378.1 429.6 375.0 430.1 373.4 431.7C371.8 433.3 371.8 435.7 371.3 438.0C370.8 440.3 370.7 442.9 370.3 445.4C369.9 447.9 370.6 450.7 369.2 452.8C367.8 454.9 363.9 456.2 361.8 458.0C359.7 459.8 358.1 462.8 356.5 463.4C354.9 463.9 353.1 462.9 352.2 461.3C351.3 459.7 351.2 456.4 351.2 453.9C351.2 451.4 351.3 448.8 352.2 446.5C353.1 444.2 355.1 442.1 356.5 440.0C357.9 437.9 360.2 435.9 360.7 433.8C361.2 431.7 360.8 429.2 359.7 427.4C358.6 425.6 354.7 424.8 354.4 423.2C354.1 421.6 356.6 419.4 358.0 418.0C359.4 416.6 360.5 416.8 362.5 414.5C364.5 412.2 368.3 409.1 370.0 404.5C371.7 399.9 371.9 393.2 372.5 387.0C373.1 380.8 372.9 372.8 373.7 367.0C374.5 361.2 376.3 356.6 377.5 352.0C378.7 347.4 381.6 342.8 381.0 339.5C380.4 336.2 372.2 334.3 373.7 332.0C375.2 329.7 383.9 327.2 390.0 325.7C396.1 324.2 403.8 323.4 410.0 323.0C416.2 322.6 422.5 322.3 427.5 323.0C432.5 323.7 437.4 325.8 440.0 327.0C442.6 328.2 442.9 328.1 443.0 330.0C443.1 331.9 439.3 335.4 440.4 338.2C441.4 341.0 445.9 346.6 449.3 347.0C452.7 347.4 458.2 343.0 460.7 340.7C463.2 338.4 464.9 335.5 464.5 333.0C464.1 330.5 460.3 327.4 458.2 325.5C456.1 323.6 451.2 323.3 451.8 321.6C452.4 319.9 458.6 317.0 462.0 315.3C465.4 313.6 469.0 311.6 472.2 311.2C475.4 310.8 477.8 311.6 481.0 312.7C484.2 313.8 487.9 316.5 491.3 317.8C494.7 319.1 498.1 320.2 501.5 320.4C504.9 320.6 508.2 319.4 511.6 319.0C515.0 318.6 518.8 318.6 521.8 317.8C524.8 317.0 527.6 315.7 529.5 314.0C531.4 312.3 532.2 310.0 533.3 307.6C534.4 305.2 535.9 302.9 536.0 299.5C536.1 296.1 534.7 290.8 533.7 287.0C532.7 283.2 530.2 280.3 530.0 277.0C529.8 273.7 531.2 270.3 532.5 267.0C533.8 263.7 536.1 259.1 537.5 257.0C538.9 254.9 539.6 254.5 541.0 254.5C542.4 254.5 542.8 255.8 546.0 257.0C549.2 258.2 555.6 260.3 560.0 262.0C564.4 263.7 568.3 264.5 572.5 267.0C576.7 269.5 580.8 274.1 585.0 277.0C589.2 279.9 593.3 282.0 597.5 284.5C601.7 287.0 606.2 289.5 610.0 292.0C613.8 294.5 617.3 297.0 620.0 299.5C622.7 302.0 625.8 304.8 626.0 307.0C626.2 309.2 623.7 312.4 621.0 313.0C618.3 313.6 614.3 312.1 610.0 310.7C605.7 309.3 600.0 306.4 595.0 304.5C590.0 302.6 585.0 300.8 580.0 299.5C575.0 298.2 569.0 296.8 565.0 297.0C561.0 297.2 557.9 298.2 556.0 300.7C554.1 303.2 554.3 308.4 553.7 312.0C553.1 315.6 554.0 319.3 552.5 322.0C551.0 324.7 548.4 325.9 545.0 328.0C541.6 330.1 535.9 332.7 532.0 334.4C528.1 336.1 525.6 337.3 521.8 338.2C518.0 339.1 512.8 338.6 509.0 339.5C505.2 340.4 501.5 342.1 499.0 343.3C496.5 344.6 494.5 345.3 493.8 347.0C493.1 348.7 495.4 351.6 495.0 353.5C494.6 355.4 492.8 356.8 491.3 358.5C489.8 360.2 487.7 361.5 486.2 363.6C484.7 365.7 483.3 368.7 482.4 371.3C481.5 373.9 481.4 376.5 481.0 379.0C480.6 381.5 480.6 384.4 479.8 386.5C479.0 388.6 476.6 389.5 476.0 391.6C475.4 393.7 475.7 397.1 476.0 399.3C476.3 401.5 479.0 403.3 478.0 405.0C477.0 406.7 473.8 408.3 470.0 409.5C466.2 410.7 459.6 410.8 455.0 412.0C450.4 413.2 445.8 417.4 442.5 417.0C439.2 416.6 437.5 412.4 435.0 409.5C432.5 406.6 428.8 403.2 427.5 399.5C426.2 395.8 427.1 391.2 427.5 387.0C427.9 382.8 429.6 376.6 430.0 374.5Z M322.4 448.0C321.3 447.1 325.2 443.7 326.3 440.8C327.4 437.9 327.5 433.2 328.8 430.5C330.1 427.8 331.7 426.1 334.0 424.6C336.3 423.1 340.4 421.6 342.4 421.4C344.3 421.2 346.2 421.1 345.7 423.3C345.2 425.5 341.4 430.5 339.2 434.3C337.0 438.1 335.5 443.7 332.7 446.0C329.9 448.3 323.5 448.9 322.4 448.0Z M220.0 438.2C221.3 437.4 224.9 434.3 228.0 433.7C231.1 433.1 234.6 433.9 238.3 434.3C242.0 434.7 247.3 435.0 250.0 436.3C252.7 437.6 253.9 440.2 254.5 442.0C255.1 443.8 255.4 446.1 253.8 447.3C252.2 448.5 248.5 448.7 244.8 449.2C241.1 449.7 235.9 450.8 231.8 450.5C227.7 450.2 223.6 447.9 220.0 447.3C216.4 446.7 211.7 447.1 210.0 447.0L210.0 438.0Z M318.7 740.5L315.0 745.0L310.0 740.5Z"/>
<path fill="#FF8C00" fill-rule="evenodd" d="M466.5 367.5L470.3 375.0C470.4 376.1 471.6 379.5 471.0 381.5C470.4 383.5 468.7 386.4 467.0 387.2C465.3 388.0 462.3 387.2 460.7 386.5C459.1 385.8 458.1 383.9 457.5 382.7C456.9 381.4 456.9 380.5 457.0 379.0C457.1 377.5 458.0 374.7 458.2 373.8Z"/>
</g>
<g clip-path="url(#cp)" fill="none" stroke="#1c3cf5" stroke-width="2" stroke-linejoin="round" shape-rendering="crispEdges">
<polyline points="219.0,51.2 228.7,52.0 233.7,55.0 237.5,61.2 245.0,65.0 252.0,68.7 253.7,80.0 258.7,88.7 265.0,90.7 272.5,87.5 281.2,90.5 290.0,89.5 296.2,85.0 301.2,88.0 305.0,87.5 311.2,91.2 317.5,88.7 322.5,85.0 326.2,82.5"/>
<polyline points="326.2,82.5 325.0,75.0 328.7,67.5 332.5,61.2 345.0,56.2 357.5,56.2 365.0,57.5 372.5,62.5 376.2,68.7 380.0,75.0 381.2,82.5 386.2,90.0 387.5,97.5 392.5,100.0 396.2,93.7 402.5,88.7 407.5,93.7 412.5,98.7 422.5,99.5 427.5,93.7 435.0,93.7 436.2,83.7 447.5,81.2 458.7,83.7 461.2,90.0 466.2,93.7 463.7,98.7 466.2,106.2 475.0,105.0 485.0,102.5 486.2,95.0 487.5,82.5 490.0,78.7 497.5,76.2 505.0,80.0 511.2,75.0 510.0,70.0 515.0,63.7 518.7,56.2 519.5,50.0"/>
<polyline points="326.2,82.5 332.5,88.7 340.0,96.2 350.0,98.7 358.7,105.0 365.0,106.2 371.2,107.5 372.5,117.5 377.5,121.2 380.0,130.0 387.5,136.2 395.0,137.0 401.2,135.0 405.0,140.0 413.7,138.7 420.0,143.7 425.0,142.5 428.7,152.5 433.7,155.0 432.5,167.5 436.2,168.7 450.0,166.2 462.5,165.7 465.0,170.0 462.5,180.0 458.7,185.0 458.7,192.5 452.5,201.2 448.7,205.0 450.0,212.5 447.5,215.0 452.5,222.5 465.0,218.7 467.5,217.5 470.0,232.5 475.0,242.5 472.5,250.0 475.0,257.0 478.0,262.0 483.0,263.0 487.0,259.0 490.0,259.5 510.0,262.0 511.0,257.0 511.2,250.0 515.0,247.5 518.7,241.2 530.0,242.5 532.5,247.5 536.2,252.5 543.7,253.7 543.7,257.0 546.2,264.5 547.5,274.5 542.5,280.7 537.5,287.0 533.7,283.2 527.5,280.7 523.7,275.7 515.0,274.5 506.2,274.5 497.5,277.0 498.7,284.5 506.2,287.0 507.5,294.5 503.7,299.5 504.0,305.0 501.5,309.0 491.3,312.0 489.4,319.0 483.6,323.0 481.7,328.0 481.0,337.0 485.0,340.7 488.7,344.5 491.3,350.3 493.8,354.0 501.5,352.2 505.3,356.0 502.7,361.0 506.5,363.0 511.6,359.8 514.2,363.6 518.0,364.3 520.5,370.0 521.2,381.5 516.7,386.5 510.4,390.4 507.8,394.8 511.6,398.6 514.2,401.8 530.0,401.5 542.5,395.7 547.5,399.5 557.5,397.0 560.0,404.5 570.0,408.2 580.0,410.7 590.0,407.0 601.2,407.0 606.2,417.0 612.5,423.2 622.5,429.5 635.0,428.2 636.2,432.0 641.2,432.0 643.7,442.0 647.5,445.7 652.5,437.0 661.2,435.7 662.5,427.0 675.0,422.0 682.5,420.7 685.0,434.5 692.5,437.0 697.5,443.2 702.5,443.2 706.2,452.0 697.5,457.0 690.0,464.5 682.5,469.0 680.0,476.5 677.5,482.7 670.0,485.2 665.0,480.2 657.5,479.0 650.0,481.5 640.0,482.0"/>
<polyline points="311.2,91.2 308.7,98.7 311.2,103.7 317.5,107.5 323.7,111.2 325.0,117.5 335.0,116.2 340.0,117.5 338.7,127.5 342.5,137.5 347.5,147.5 346.2,153.7 340.0,155.0 331.2,157.5 327.5,163.7 320.0,167.5 310.0,170.0 303.7,163.7 300.0,157.5 296.2,152.5 295.0,145.0 288.7,141.2 282.5,137.0 271.2,137.0 265.0,141.2 262.5,152.5 266.2,157.5 263.7,165.0 266.2,175.0 267.5,182.5 257.5,185.0 247.5,190.0 243.7,200.0 246.2,207.5 242.5,220.0 232.5,226.2 219.0,228.7"/>
<polyline points="219.0,244.5 228.6,245.5 233.2,250.0 233.2,260.0 232.3,267.3 235.0,272.7 240.5,277.3 249.5,278.2 255.0,281.8 258.6,287.3 263.2,291.0 267.7,290.0 271.4,291.0 272.3,284.5 277.7,285.5 284.0,281.0 289.5,276.4 291.4,277.3 285.0,284.5 286.0,291.0 287.7,301.8 289.5,312.7 290.0,332.0 288.0,349.5 280.0,351.5 271.2,351.5 265.0,357.0 257.5,360.7 255.0,367.0 250.0,374.5 247.5,382.0 247.5,387.0 238.7,387.0 236.2,382.0 236.2,373.2 231.2,368.2 227.5,368.2 226.2,374.5 219.0,375.0"/>
<polyline points="247.5,387.0 252.5,394.5 258.7,400.7 262.5,408.2 268.7,404.5 275.0,408.2 281.2,413.2 287.5,409.5 290.0,415.7 296.2,419.5 301.2,428.2 293.7,430.7 287.5,435.7 283.7,442.0 285.0,445.7 278.7,447.0 278.7,454.5 282.5,459.5 287.5,464.5 290.0,469.0 291.2,476.5 287.5,480.2 290.0,486.5 296.2,491.5 301.2,497.7 302.5,509.0 303.7,521.5 307.5,531.5 302.5,536.5 295.0,541.5 290.0,541.5 281.2,536.5 275.0,531.5 265.0,530.7 257.5,532.7 253.7,540.2 247.5,547.7 240.0,551.5 232.5,549.0 227.5,546.5 226.2,549.0 231.2,554.0 231.2,561.5 225.0,561.5 219.0,557.7"/>
<polyline points="307.5,531.5 315.0,535.2 317.5,536.5 325.0,531.5 332.5,526.5 340.0,525.2 342.5,514.0 347.5,510.2 355.0,512.7 360.0,515.2 361.2,519.0 365.0,520.2 366.2,527.7 360.0,534.0 352.5,537.7 348.7,544.0 347.5,549.0 351.2,555.2 357.5,554.0 361.2,556.5 370.0,550.2 376.2,545.2 381.2,542.7 383.7,536.5 381.2,532.7 386.2,525.2 393.7,524.0 393.7,531.5 400.0,532.7 406.2,530.2 408.7,541.5 412.5,547.7 420.0,555.2 426.2,555.2 428.7,559.0 438.7,556.5 445.0,558.2 452.5,556.0 462.5,562.7 463.7,570.2 467.5,574.0 470.0,570.2 476.2,567.7 477.5,564.0 490.0,561.5 492.5,556.5 500.0,550.2 507.5,544.0 510.0,535.2 516.2,529.0 521.2,521.5 521.2,511.5 518.7,504.0 521.2,496.5 521.2,487.7 527.5,482.7 537.5,486.5 547.5,489.0 550.0,485.2 560.0,484.0 562.5,480.2 556.2,476.5 554.5,469.0 551.2,469.0 550.0,459.5 555.0,459.5 560.0,457.0 568.7,452.0 572.5,442.0 576.2,432.0 578.7,419.5 580.0,410.7"/>
<polyline points="467.5,574.0 466.2,579.0 458.7,584.0 455.0,591.5 456.2,601.5 458.7,610.0 467.5,616.2 472.5,617.5 476.2,627.5 482.5,635.0 486.2,645.0 485.0,652.5 488.7,660.0 487.5,670.0 490.0,675.0 490.0,680.0 482.5,678.7 477.5,685.0 481.2,690.0 477.5,695.0 465.0,697.5 458.7,705.0 450.0,705.0 440.0,710.0 435.0,715.0 432.5,721.2 425.0,717.5 420.0,712.5 415.0,706.2 407.5,711.2 400.0,713.7 396.2,720.0 395.0,726.2 387.5,730.0 380.0,735.0 375.0,737.5 375.0,742.5 380.0,745.0 382.5,750.0"/>
<polyline points="490.0,680.0 497.5,678.7 501.2,680.0 507.5,675.0 515.0,681.2 513.7,691.2 508.7,698.7 510.0,707.5 515.0,712.5 517.5,725.0 521.2,730.0 520.0,740.0 522.5,750.0"/>
<polyline points="557.5,750.0 562.5,746.2 566.2,745.0 568.7,736.2 573.7,734.5 578.7,734.5 580.0,742.5 583.7,747.5 585.0,750.0"/>
<polyline points="545.5,50.0 546.2,58.7 543.7,65.0 548.7,70.0 556.2,73.7 562.5,73.7 567.5,77.5 566.2,82.0 577.5,88.7 590.0,95.0 598.7,100.5 606.2,101.2 620.0,110.0 630.0,113.7 630.5,125.0 633.7,132.5 637.5,145.0 642.5,153.7 646.2,161.2 641.2,166.2 645.0,165.0 647.5,175.0 650.0,180.0 653.7,192.5 655.0,201.2 658.7,208.7 663.7,215.0 665.0,222.5 668.7,227.5 670.0,235.0 676.2,237.5 677.5,250.0 675.0,257.0 676.2,267.0 680.0,274.5 690.0,280.7 702.5,287.0 712.5,293.2 716.2,300.7 712.5,309.5 716.2,317.0 727.5,320.7 737.5,325.7 747.5,334.5 752.5,344.5 756.2,357.0 750.0,359.5 740.0,357.0 730.0,352.0 720.0,347.0 712.5,342.0 702.5,343.2 695.0,343.2 690.0,349.5 692.5,355.7 702.5,364.5 710.0,373.2 708.7,377.0 705.0,379.5 698.7,383.2 695.0,389.5 695.0,397.0 691.2,402.0 690.0,408.2 676.2,412.0 675.0,422.0"/>
<polyline points="695.0,344.5 710.0,340.7 722.5,344.5 737.5,353.2 755.0,357.0 740.0,358.2 725.0,353.2 715.0,348.2 702.5,347.0 695.0,344.5"/>
<polyline points="702.5,349.5 710.0,357.0 720.0,364.5 732.5,369.5 745.0,372.0 753.7,370.7 752.5,379.5 745.0,379.5 730.0,375.7 715.0,369.5 705.0,362.0 700.0,354.5 702.5,349.5"/>
<polyline points="712.0,346.0 716.0,347.0 716.0,349.5 712.0,348.5 712.0,346.0"/>
<polyline points="708.7,377.0 716.2,377.0 730.0,387.0 742.5,399.5 750.0,412.0 756.2,429.5 753.7,436.5 740.0,437.0 725.0,442.0 715.0,449.5 706.2,452.0"/>
<polyline points="640.0,482.0 653.7,484.0 655.0,494.0 660.0,501.5 670.0,505.2 680.0,501.5 687.5,495.2 697.5,490.2 701.2,487.7 711.2,487.7 715.0,491.1"/>
<polyline points="718.3,568.0 718.7,571.5 722.0,572.0 725.9,565.3"/>
<polyline points="759.7,568.0 760.0,571.5 759.6,570.7 755.8,575.3 759.6,579.9 761.2,586.0 762.7,590.6 767.3,593.6 762.7,598.2 761.2,602.8 758.1,605.1 753.5,601.3 748.9,604.3 746.6,599.8 750.5,595.2 748.9,589.1 748.2,581.4 747.4,575.3 745.9,581.4 745.9,590.6 741.3,593.6 736.7,592.1 736.7,581.4 733.6,584.5 727.5,586.0 729.0,590.6 722.9,593.6 719.9,596.7 722.9,600.5 730.6,599.0 736.7,601.3 739.8,605.9 741.3,610.5 739.8,618.1 738.2,622.7 739.0,627.3 736.7,631.9 734.4,636.5 727.5,638.7 725.2,642.6 725.2,648.7 729.0,654.8 730.6,664.0 733.6,670.1 737.5,673.1 735.2,679.3 731.3,680.8 729.0,674.7 724.5,673.1 719.1,675.4 716.8,680.8 712.5,687.5 707.5,685.0 702.5,677.5 707.5,670.0 700.0,668.7 696.2,680.0 692.5,688.7 686.2,693.7 683.7,703.7 671.2,706.2 676.2,711.2 671.2,717.5 665.0,725.0 660.0,731.2 661.2,736.2 655.0,742.5 655.0,750.0"/>
<polyline points="751.0,509.6 756.5,509.1 756.5,515.1 753.2,518.4 751.0,516.2 751.0,509.6"/>
<polyline points="758.6,499.8 764.1,503.1 770.6,503.6 776.1,508.0 780.5,509.6 784.8,511.8 789.2,515.1 793.5,515.6 796.3,516.7 793.5,519.5 796.3,522.7 797.4,527.1 795.7,532.5 791.4,531.5 790.3,528.2 787.0,529.3 785.9,533.6 788.1,538.0 785.9,542.4 782.6,541.3 780.5,536.9 781.5,532.5 784.8,529.3 782.6,528.2 779.4,531.5 780.5,539.1 785.9,546.7 781.5,546.7 778.3,544.5 778.3,548.9 775.0,550.0 772.8,545.6 769.5,543.5 767.4,541.3 764.1,542.4 763.0,539.1 767.4,538.0 771.7,536.9 773.9,541.3 776.1,544.5"/>
<polyline points="758.6,499.8 758.1,504.2 760.8,506.4 761.9,510.7 763.0,515.1 767.4,517.3 770.6,516.2 772.8,518.4 769.5,520.5 766.3,521.6 763.0,523.8 758.6,522.7 756.5,526.0"/>
<polyline points="766.3,488.9 771.7,488.9 778.3,485.1 781.0,486.7 780.5,494.4 777.2,495.5 772.8,492.2 769.5,490.0 766.3,488.9"/>
<polyline points="782.6,492.7 795.7,491.6 796.3,494.4 793.5,496.0 782.6,494.9 782.6,492.7"/>
<polyline points="773.9,496.5 779.4,497.6 779.4,500.9 776.1,503.6 773.9,500.9 773.9,496.5"/>
<polyline points="763.0,500.9 767.4,498.7 766.3,501.5 763.0,500.9"/>
<polyline points="758.6,490.0 761.9,486.2"/>
<polyline points="779.0,519.0 783.0,517.0 786.0,520.0 783.0,523.0 779.0,522.0 779.0,519.0"/>
<polyline points="787.0,519.0 791.0,521.0 789.0,525.0 786.0,524.0"/>
<polyline points="765.0,521.0 768.0,520.0 768.0,523.0 765.0,523.0"/>
<polyline points="782.0,507.0 786.0,509.0"/>
<polyline points="715.0,491.1 720.5,495.5 724.8,499.8 725.9,504.2 731.4,509.6 733.5,514.0 737.9,518.4 741.2,520.5 745.5,520.0 749.9,522.7 754.3,524.9 758.6,527.6 765.2,528.2 771.7,526.5 774.5,527.6 771.7,530.4 766.3,532.5 761.9,535.8 757.5,538.0 754.3,540.2 753.2,543.5 749.9,546.7 746.6,550.0 743.4,553.3 740.1,556.5 733.5,558.7 729.2,559.8 725.9,559.8 723.7,562.0 719.4,562.5 720.5,565.3 718.3,568.0"/>
<polyline points="725.9,565.3 732.5,563.1 740.1,560.9 745.5,556.5 746.6,554.4 753.2,553.3 757.5,551.1 760.8,553.3 765.2,552.2 764.1,555.5 760.8,558.7 760.8,562.0 763.0,563.1 758.6,564.2 759.7,568.0"/>
<polyline points="742.3,559.8 747.7,558.7 751.0,562.0 747.7,565.3 744.5,564.2 743.4,560.9"/>
<polyline points="726.0,616.6 730.6,613.5 736.7,618.1 733.6,621.2 727.5,618.9 726.0,616.6"/>
<polyline points="727.5,605.9 730.6,610.5 727.0,612.0 726.0,616.6"/>
<polyline points="732.1,653.3 735.9,657.9 736.7,661.7 733.0,659.0 732.1,653.3"/>
<polyline points="719.1,571.5 719.9,566.1 724.5,562.3 730.6,560.8 727.5,566.1 724.5,573.0 729.0,569.2 735.2,564.6 742.8,561.5 750.5,560.8 756.6,561.5"/>
<polyline points="776.5,572.2 781.8,568.4 780.0,572.0 776.5,572.2"/>
<polyline points="743.6,639.5 748.2,637.2 746.0,640.5 743.6,639.5"/>
<polyline points="751.2,634.9 754.3,631.9 755.5,633.5 752.5,636.0 751.2,634.9"/>
<polyline points="752.8,628.8 751.0,631.0"/>
<polyline points="757.3,637.2 756.0,635.5"/>
<polyline points="753.5,657.9 757.3,656.3 754.5,660.0 753.5,657.9"/>
<polyline points="700.0,670.1 706.1,670.1 703.1,674.7 706.9,679.3 706.1,685.4 710.7,690.0"/>
<polyline points="800.0,495.0 802.5,497.0 801.0,499.0"/>
<polyline points="811.0,497.0 814.0,497.5 813.0,500.0 811.0,497.0"/>
<polyline points="821.0,503.0 824.0,503.0 824.0,506.0 821.0,506.0 821.0,503.0"/>
<polyline points="759.0,486.0 762.0,485.0 761.0,488.0"/>
<polyline points="776.0,571.5 781.0,568.5 779.0,572.0 776.0,571.5"/>
<polyline points="764.0,593.0 768.0,590.0 768.0,594.0 764.0,593.0"/>
<polyline points="750.0,631.0 753.0,628.0 752.0,632.0"/>
<polyline points="744.0,640.0 748.0,637.5 748.0,640.5 744.0,640.0"/>
<polyline points="755.0,636.0 758.0,634.0 757.0,637.0"/>
<polyline points="753.0,659.0 757.0,655.5 757.0,659.5 753.0,659.0"/>
<polyline points="695.0,690.0 702.5,685.0 707.5,695.0 702.5,700.0 696.2,697.5 695.0,690.0"/>
<polyline points="690.0,705.0 697.5,704.0 697.5,708.7 691.0,708.0 690.0,705.0"/>
<polyline points="687.5,716.2 697.5,712.5 700.0,720.0 693.7,723.7 687.5,716.2"/>
<polyline points="745.0,638.7 752.5,632.5 753.0,636.0 747.0,640.0"/>
<polyline points="724.0,695.0 727.0,693.0 727.0,696.5 724.0,695.0"/>
<polyline points="795.5,446.5 797.0,450.0 805.0,449.5 806.0,452.0 810.0,454.5 807.5,457.5 805.5,456.0 804.0,452.5 798.0,453.0 795.5,452.0 795.5,446.5"/>
<polyline points="813.0,440.0 817.0,437.0 817.0,441.0 813.0,440.0"/>
<polyline points="822.0,451.0 826.0,448.0 828.0,452.0 823.0,454.0 822.0,451.0"/>
<polyline points="766.0,459.0 769.0,457.0 770.0,462.0 767.0,464.0 766.0,459.0"/>
<polyline points="784.0,457.0 786.0,456.0 786.0,458.5 784.0,457.0"/>
<polyline points="490.0,671.5 497.5,676.5 506.2,675.2 515.0,681.0"/>
<polyline points="692.5,681.0 697.5,671.5 702.5,669.0"/>
</g>
<g fill="none" stroke="#8505e0" stroke-width="1.7">
<circle cx="390.0" cy="119.5" r="4.8"/>
<circle cx="356.7" cy="146.5" r="4.8"/>
<circle cx="372.0" cy="178.0" r="4.8"/>
<circle cx="475.7" cy="147.5" r="4.8"/>
<circle cx="401.2" cy="243.7" r="4.8"/>
<circle cx="542.0" cy="190.0" r="4.8"/>
<circle cx="618.0" cy="201.7" r="4.8"/>
<circle cx="372.7" cy="272.5" r="4.8"/>
<circle cx="476.2" cy="299.5" r="4.8"/>
<circle cx="395.5" cy="343.7" r="4.8"/>
<circle cx="489.3" cy="372.0" r="4.8"/>
<circle cx="481.2" cy="393.2" r="4.8"/>
<circle cx="438.2" cy="430.0" r="4.8"/>
<circle cx="600.0" cy="284.5" r="4.8"/>
<circle cx="563.0" cy="294.0" r="4.8"/>
<circle cx="564.2" cy="311.5" r="4.8"/>
<circle cx="513.0" cy="326.5" r="4.8"/>
<circle cx="689.5" cy="322.7" r="4.8"/>
<circle cx="603.7" cy="350.0" r="4.8"/>
<circle cx="630.0" cy="368.7" r="4.8"/>
<circle cx="656.2" cy="393.7" r="4.8"/>
<circle cx="723.0" cy="400.0" r="4.8"/>
<circle cx="510.7" cy="428.2" r="4.8"/>
<circle cx="615.5" cy="436.5" r="4.8"/>
<circle cx="667.0" cy="445.0" r="4.8"/>
<circle cx="294.5" cy="544.0" r="4.8"/>
<circle cx="478.7" cy="543.5" r="4.8"/>
<circle cx="388.7" cy="584.7" r="4.8"/>
<circle cx="288.0" cy="640.2" r="4.8"/>
<circle cx="448.0" cy="660.7" r="4.8"/>
<circle cx="380.0" cy="678.0" r="4.8"/>
<circle cx="622.5" cy="492.7" r="4.8"/>
<circle cx="652.5" cy="516.0" r="4.8"/>
<circle cx="728.7" cy="529.7" r="4.8"/>
<circle cx="580.0" cy="599.0" r="4.8"/>
<circle cx="520.7" cy="613.2" r="4.8"/>
<circle cx="718.0" cy="642.2" r="4.8"/>
<circle cx="779.5" cy="518.2" r="4.8"/>
</g>
<rect x="219" y="50" width="661" height="700" fill="none" stroke="#000" stroke-width="2"/>
<g stroke="#ff3030" stroke-width="1" shape-rendering="crispEdges">
<line x1="213" y1="750.5" x2="218" y2="750.5"/><line x1="213" y1="704.5" x2="218" y2="704.5"/><line x1="213" y1="657.5" x2="218" y2="657.5"/><line x1="213" y1="610.5" x2="218" y2="610.5"/><line x1="213" y1="564.5" x2="218" y2="564.5"/><line x1="213" y1="517.5" x2="218" y2="517.5"/><line x1="213" y1="470.5" x2="218" y2="470.5"/><line x1="213" y1="424.5" x2="218" y2="424.5"/><line x1="213" y1="377.5" x2="218" y2="377.5"/><line x1="213" y1="330.5" x2="218" y2="330.5"/><line x1="213" y1="284.5" x2="218" y2="284.5"/><line x1="213" y1="237.5" x2="218" y2="237.5"/><line x1="213" y1="190.5" x2="218" y2="190.5"/><line x1="213" y1="144.5" x2="218" y2="144.5"/><line x1="213" y1="97.5" x2="218" y2="97.5"/><line x1="219.5" y1="751" x2="219.5" y2="758"/><line x1="297.5" y1="751" x2="297.5" y2="758"/><line x1="375.5" y1="751" x2="375.5" y2="758"/><line x1="452.5" y1="751" x2="452.5" y2="758"/><line x1="530.5" y1="751" x2="530.5" y2="758"/><line x1="608.5" y1="751" x2="608.5" y2="758"/><line x1="686.5" y1="751" x2="686.5" y2="758"/><line x1="763.5" y1="751" x2="763.5" y2="758"/><line x1="841.5" y1="751" x2="841.5" y2="758"/></g>
<g class="ax">
<text x="206" y="759.2" text-anchor="end" textLength="57.0" lengthAdjust="spacingAndGlyphs">27.5N</text><text x="206" y="713.2" text-anchor="end" textLength="38.6" lengthAdjust="spacingAndGlyphs">28N</text><text x="206" y="666.2" text-anchor="end" textLength="57.0" lengthAdjust="spacingAndGlyphs">28.5N</text><text x="206" y="619.2" text-anchor="end" textLength="38.6" lengthAdjust="spacingAndGlyphs">29N</text><text x="206" y="573.2" text-anchor="end" textLength="57.0" lengthAdjust="spacingAndGlyphs">29.5N</text><text x="206" y="526.2" text-anchor="end" textLength="38.6" lengthAdjust="spacingAndGlyphs">30N</text><text x="206" y="479.2" text-anchor="end" textLength="57.0" lengthAdjust="spacingAndGlyphs">30.5N</text><text x="206" y="433.2" text-anchor="end" textLength="38.6" lengthAdjust="spacingAndGlyphs">31N</text><text x="206" y="386.2" text-anchor="end" textLength="57.0" lengthAdjust="spacingAndGlyphs">31.5N</text><text x="206" y="339.2" text-anchor="end" textLength="38.6" lengthAdjust="spacingAndGlyphs">32N</text><text x="206" y="293.2" text-anchor="end" textLength="57.0" lengthAdjust="spacingAndGlyphs">32.5N</text><text x="206" y="246.2" text-anchor="end" textLength="38.6" lengthAdjust="spacingAndGlyphs">33N</text><text x="206" y="199.2" text-anchor="end" textLength="57.0" lengthAdjust="spacingAndGlyphs">33.5N</text><text x="206" y="153.2" text-anchor="end" textLength="38.6" lengthAdjust="spacingAndGlyphs">34N</text><text x="206" y="106.2" text-anchor="end" textLength="57.0" lengthAdjust="spacingAndGlyphs">34.5N</text><text x="196.7" y="779" textLength="46.5" lengthAdjust="spacingAndGlyphs">115E</text><text x="274.5" y="779" textLength="46.5" lengthAdjust="spacingAndGlyphs">116E</text><text x="352.2" y="779" textLength="46.5" lengthAdjust="spacingAndGlyphs">117E</text><text x="430.0" y="779" textLength="46.5" lengthAdjust="spacingAndGlyphs">118E</text><text x="507.8" y="779" textLength="46.5" lengthAdjust="spacingAndGlyphs">119E</text><text x="585.5" y="779" textLength="46.5" lengthAdjust="spacingAndGlyphs">120E</text><text x="663.3" y="779" textLength="46.5" lengthAdjust="spacingAndGlyphs">121E</text><text x="741.1" y="779" textLength="46.5" lengthAdjust="spacingAndGlyphs">122E</text><text x="818.8" y="779" textLength="46.5" lengthAdjust="spacingAndGlyphs">123E</text></g>
<g stroke="#000" stroke-width="1" shape-rendering="crispEdges">
<rect x="950.5" y="127.50" width="40" height="49.65" fill="#92D050"/><rect x="950.5" y="177.15" width="40" height="49.65" fill="#70AD38"/><rect x="950.5" y="226.80" width="40" height="49.65" fill="#F5F96B"/><rect x="950.5" y="276.45" width="40" height="49.65" fill="#FFE900"/><rect x="950.5" y="326.10" width="40" height="49.65" fill="#FFB027"/><rect x="950.5" y="375.75" width="40" height="49.65" fill="#FF8C00"/><rect x="950.5" y="425.40" width="40" height="49.65" fill="#F92C59"/><rect x="950.5" y="475.05" width="40" height="49.65" fill="#FF0000"/><rect x="950.5" y="524.70" width="40" height="49.65" fill="#C7157F"/><rect x="950.5" y="574.35" width="40" height="49.65" fill="#AD305C"/><rect x="950.5" y="624.00" width="40" height="49.65" fill="#9932CC"/><rect x="950.5" y="673.65" width="40" height="49.65" fill="#8A2BE2"/></g>
<g class="lg">
<text x="997.5" y="186.0" textLength="23.4" lengthAdjust="spacingAndGlyphs">10</text><text x="997.5" y="235.6" textLength="10.2" lengthAdjust="spacingAndGlyphs">8</text><text x="997.5" y="285.2" textLength="10.2" lengthAdjust="spacingAndGlyphs">6</text><text x="997.5" y="334.9" textLength="10.2" lengthAdjust="spacingAndGlyphs">4</text><text x="997.5" y="384.6" textLength="10.2" lengthAdjust="spacingAndGlyphs">2</text><text x="997.5" y="434.2" textLength="10.2" lengthAdjust="spacingAndGlyphs">1</text><text x="997.5" y="483.9" textLength="30.6" lengthAdjust="spacingAndGlyphs">0.8</text><text x="997.5" y="533.5" textLength="30.6" lengthAdjust="spacingAndGlyphs">0.6</text><text x="997.5" y="583.1" textLength="30.6" lengthAdjust="spacingAndGlyphs">0.4</text><text x="997.5" y="632.8" textLength="30.6" lengthAdjust="spacingAndGlyphs">0.2</text><text x="997.5" y="682.4" textLength="30.6" lengthAdjust="spacingAndGlyphs">0.1</text><text x="941.5" y="108.8" textLength="51" lengthAdjust="spacingAndGlyphs">(km)</text>
</g>
<g>
<text class="tt" x="172.7" y="33.5" textLength="52.8" lengthAdjust="spacingAndGlyphs">2026</text><text class="tc" x="227.0" y="32.4" textLength="22.5" lengthAdjust="spacingAndGlyphs">年</text><text class="tt" x="251.0" y="33.5" textLength="25.0" lengthAdjust="spacingAndGlyphs">03</text><text class="tc" x="279.0" y="32.4" textLength="22.0" lengthAdjust="spacingAndGlyphs">月</text><text class="tt" x="304.0" y="33.5" textLength="25.5" lengthAdjust="spacingAndGlyphs">21</text><text class="tc" x="334.0" y="32.4" textLength="22.0" lengthAdjust="spacingAndGlyphs">日</text><text class="tt" x="357.0" y="33.5" textLength="67.0" lengthAdjust="spacingAndGlyphs">WRF/</text><text class="tt" x="427.0" y="33.5" textLength="53.0" lengthAdjust="spacingAndGlyphs">cmaq</text><text class="tc" x="482.0" y="32.4" textLength="45.5" lengthAdjust="spacingAndGlyphs">模式</text><text class="tt" x="529.5" y="33.5" textLength="65.0" lengthAdjust="spacingAndGlyphs">12km</text><text class="tc" x="600.0" y="32.4" textLength="22.5" lengthAdjust="spacingAndGlyphs">预</text><text class="tc" x="624.0" y="32.4" textLength="22.5" lengthAdjust="spacingAndGlyphs">报</text><text class="tc" x="649.0" y="32.4" textLength="22.5" lengthAdjust="spacingAndGlyphs">产</text><text class="tc" x="673.5" y="32.4" textLength="22.0" lengthAdjust="spacingAndGlyphs">品</text><text class="tt" x="695.5" y="33.5" textLength="5.5" lengthAdjust="spacingAndGlyphs">:</text><text class="tt" x="702.5" y="33.5" textLength="26.5" lengthAdjust="spacingAndGlyphs">03</text><text class="tc" x="731.5" y="32.4" textLength="22.0" lengthAdjust="spacingAndGlyphs">月</text><text class="tt" x="756.5" y="33.5" textLength="25.5" lengthAdjust="spacingAndGlyphs">21</text><text class="tc" x="787.0" y="32.4" textLength="22.0" lengthAdjust="spacingAndGlyphs">日</text><text class="tt" x="809.5" y="33.5" textLength="25.0" lengthAdjust="spacingAndGlyphs">00</text><text class="tc" x="836.0" y="32.4" textLength="22.5" lengthAdjust="spacingAndGlyphs">时</text><text class="tt" x="870.5" y="33.5" style="fill:#ff3030" textLength="39" lengthAdjust="spacingAndGlyphs">VIS</text>
</g>
<g class="ft">
<text x="360.5" y="829" textLength="84" lengthAdjust="spacing">版权所有:</text>
<text x="454" y="829" textLength="76" lengthAdjust="spacing">南京大学</text>
<text x="544" y="829" textLength="198" lengthAdjust="spacing">南京创蓝科技有限公司</text>
</g>
<line x1="534.5" y1="808" x2="534.5" y2="838" stroke="#000" stroke-width="1" shape-rendering="crispEdges"/>
</svg></body></html>
